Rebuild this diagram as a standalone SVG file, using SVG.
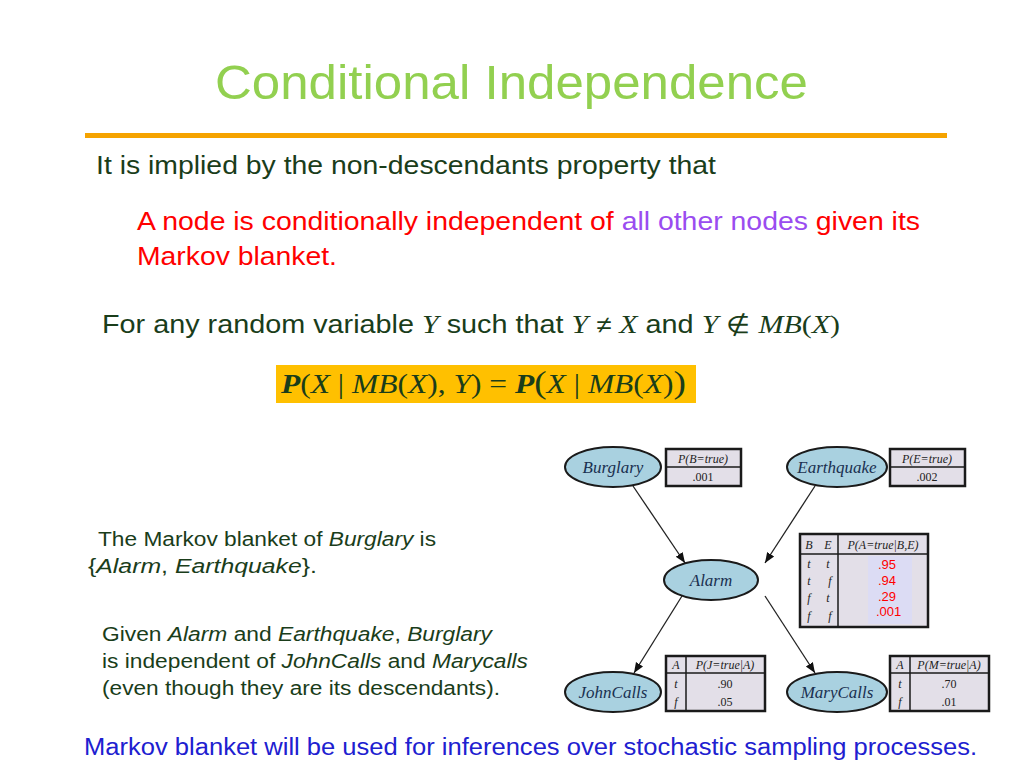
<svg xmlns="http://www.w3.org/2000/svg" width="1024" height="768" viewBox="0 0 1024 768">
<style>
.t{font-family:"Liberation Sans",Arial,sans-serif;fill:#1a3d1a}
.m{font-family:"Liberation Serif","DejaVu Serif",serif;font-style:italic;fill:#1a3d1a}
.n ellipse{fill:#a9d1e0;stroke:#1a1a1a;stroke-width:2}
.n text{font-family:"Liberation Serif",serif;font-style:italic;font-size:17px;fill:#1a3050;text-anchor:middle}
.tb rect{fill:#e3dfe8;stroke:#1a1a1a;stroke-width:2.5}
.tb rect.hl{fill:#dcdcf4;stroke:none}
.tb line{stroke:#1a1a1a;stroke-width:1.5}
.tb text{font-family:"Liberation Serif",serif;font-size:12px;fill:#222;text-anchor:middle}
.tb .i{font-style:italic}
.tb text.rv{font-family:"Liberation Sans",sans-serif;fill:#ff0000;font-size:13px;text-anchor:start}
.c line{stroke:#222;stroke-width:1.3;marker-end:url(#a)}
</style>
<defs><marker id="a" viewBox="0 0 10 10" refX="10" refY="5" markerWidth="8" markerHeight="8" orient="auto"><path d="M0,1 L10,5 L0,9 z" fill="#111"/></marker></defs>
<rect width="1024" height="768" fill="#fff"/>
<text x="215" y="99" textLength="593" lengthAdjust="spacingAndGlyphs" font-family="Liberation Sans,Arial,sans-serif" font-size="49" fill="#92d050">Conditional Independence</text>
<rect x="85" y="133" width="862" height="5" fill="#f5a300"/>
<text class="t" x="96" y="174" font-size="25" textLength="620" lengthAdjust="spacingAndGlyphs">It is implied by the non-descendants property that</text>
<text x="137" y="230" font-family="Liberation Sans,Arial,sans-serif" font-size="25" fill="#ff0000" textLength="783" lengthAdjust="spacingAndGlyphs">A node is conditionally independent of <tspan fill="#9a4cf0">all other nodes</tspan> given its</text>
<text x="137" y="265" font-family="Liberation Sans,Arial,sans-serif" font-size="25" fill="#ff0000" textLength="200" lengthAdjust="spacingAndGlyphs">Markov blanket.</text>
<text class="t" x="102" y="333" font-size="25" textLength="738" lengthAdjust="spacingAndGlyphs">For any random variable <tspan class="m" font-size="26">Y</tspan> such that <tspan class="m" font-size="26">Y</tspan> <tspan font-size="24">≠</tspan> <tspan class="m" font-size="26">X</tspan> and <tspan class="m" font-size="26">Y</tspan> <tspan font-size="24">∉</tspan> <tspan class="m" font-size="26">MB</tspan><tspan font-family="Liberation Serif,serif" font-size="26">(</tspan><tspan class="m" font-size="26">X</tspan><tspan font-family="Liberation Serif,serif" font-size="26">)</tspan></text>
<rect x="276" y="365" width="420" height="38" fill="#ffc000"/>
<text x="281" y="393" textLength="405" lengthAdjust="spacingAndGlyphs" font-family="Liberation Serif,serif" font-size="27" fill="#1a3d1a"><tspan font-weight="bold" font-style="italic">P</tspan>(<tspan font-style="italic">X</tspan> | <tspan font-style="italic">MB</tspan>(<tspan font-style="italic">X</tspan>), <tspan font-style="italic">Y</tspan>) = <tspan font-weight="bold" font-style="italic">P</tspan><tspan font-size="32">(</tspan><tspan font-style="italic">X</tspan> | <tspan font-style="italic">MB</tspan>(<tspan font-style="italic">X</tspan>)<tspan font-size="32">)</tspan></text>
<text class="t" x="98" y="546" font-size="20" textLength="338" lengthAdjust="spacingAndGlyphs">The Markov blanket of <tspan font-style="italic">Burglary</tspan> is</text>
<text class="t" x="88" y="573" font-size="20" textLength="229" lengthAdjust="spacingAndGlyphs">{<tspan font-style="italic">Alarm</tspan>, <tspan font-style="italic">Earthquake</tspan>}.</text>
<text class="t" x="102" y="641" font-size="20" textLength="390" lengthAdjust="spacingAndGlyphs">Given <tspan font-style="italic">Alarm</tspan> and <tspan font-style="italic">Earthquake</tspan>, <tspan font-style="italic">Burglary</tspan></text>
<text class="t" x="102" y="668" font-size="20" textLength="426" lengthAdjust="spacingAndGlyphs">is independent of <tspan font-style="italic">JohnCalls</tspan> and <tspan font-style="italic">Marycalls</tspan></text>
<text class="t" x="102" y="695" font-size="20" textLength="398" lengthAdjust="spacingAndGlyphs">(even though they are its descendants).</text>
<text x="84" y="755" font-family="Liberation Sans,Arial,sans-serif" font-size="23" fill="#2020d0" textLength="893" lengthAdjust="spacingAndGlyphs">Markov blanket will be used for inferences over stochastic sampling processes.</text>
<g class="c">
<line x1="633" y1="486" x2="685" y2="563"/>
<line x1="815" y1="486" x2="765" y2="563"/>
<line x1="682" y1="596" x2="634" y2="673"/>
<line x1="765" y1="596" x2="815" y2="673"/>
</g>
<g id="burglary" class="n"><ellipse cx="613" cy="467" rx="48" ry="20"/><text x="613" y="473">Burglary</text></g>
<g id="earthquake" class="n"><ellipse cx="837" cy="467" rx="50" ry="20"/><text x="837" y="473">Earthquake</text></g>
<g id="alarm" class="n"><ellipse cx="711" cy="580" rx="47" ry="20"/><text x="711" y="586">Alarm</text></g>
<g id="johncalls" class="n"><ellipse cx="613" cy="692" rx="48" ry="20"/><text x="613" y="698">JohnCalls</text></g>
<g id="marycalls" class="n"><ellipse cx="837" cy="692" rx="50" ry="20"/><text x="837" y="698">MaryCalls</text></g>
<g id="tableB" class="tb"><rect x="666" y="449" width="75" height="37"/><line x1="666" y1="467" x2="741" y2="467"/><text class="i" x="703" y="463">P(B=true)</text><text x="703" y="481">.001</text></g>
<g id="tableE" class="tb"><rect x="890" y="449" width="75" height="37"/><line x1="890" y1="467" x2="965" y2="467"/><text class="i" x="927" y="463">P(E=true)</text><text x="927" y="481">.002</text></g>
<g id="tableA" class="tb"><rect x="800" y="534" width="128" height="93"/><line x1="800" y1="554" x2="928" y2="554"/><line x1="838" y1="534" x2="838" y2="627"/>
<rect class="hl" x="868" y="556" width="44" height="68"/>
<text class="i" x="809" y="549">B</text><text class="i" x="828" y="549">E</text><text class="i" x="883" y="549">P(A=true|B,E)</text>
<text class="i" x="809" y="568">t</text><text class="i" x="828" y="568">t</text>
<text class="i" x="809" y="585">t</text><text class="i" x="830" y="585">f</text>
<text class="i" x="809" y="602">f</text><text class="i" x="828" y="602">t</text>
<text class="i" x="809" y="620">f</text><text class="i" x="830" y="620">f</text>
<text class="rv" x="878" y="569">.95</text>
<text class="rv" x="878" y="585">.94</text>
<text class="rv" x="878" y="601">.29</text>
<text class="rv" x="876" y="616">.001</text></g>
<g id="tableJ" class="tb"><rect x="666" y="656" width="99" height="55"/><line x1="666" y1="673" x2="765" y2="673"/><line x1="686" y1="656" x2="686" y2="711"/>
<text class="i" x="676" y="669">A</text><text class="i" x="725" y="669">P(J=true|A)</text><text class="i" x="676" y="688">t</text><text x="725" y="688">.90</text><text class="i" x="676" y="706">f</text><text x="725" y="706">.05</text></g>
<g id="tableM" class="tb"><rect x="890" y="656" width="99" height="55"/><line x1="890" y1="673" x2="989" y2="673"/><line x1="910" y1="656" x2="910" y2="711"/>
<text class="i" x="900" y="669">A</text><text class="i" x="949" y="669">P(M=true|A)</text><text class="i" x="900" y="688">t</text><text x="949" y="688">.70</text><text class="i" x="900" y="706">f</text><text x="949" y="706">.01</text></g>
</svg>
